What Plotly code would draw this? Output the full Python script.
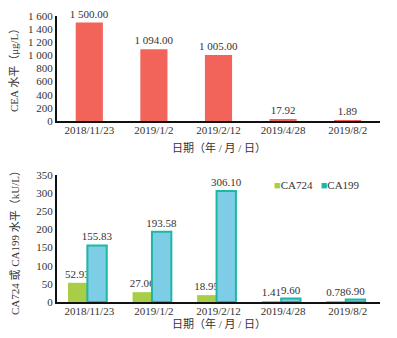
import plotly.graph_objects as go

dates = ["2018/11/23", "2019/1/2", "2019/2/12", "2019/4/28", "2019/8/2"]
cea = [1500.00, 1094.00, 1005.00, 17.92, 1.89]
ca724 = [52.93, 27.06, 18.95, 1.41, 0.78]
ca199 = [155.83, 193.58, 306.10, 9.60, 6.90]

cea_ticks = [0, 200, 400, 600, 800, 1000, 1200, 1400, 1600]
cea_ticktext = ["0", "200", "400", "600", "800", "1 000", "1 200", "1 400", "1 600"]
ca_ticks = [0, 50, 100, 150, 200, 250, 300, 350]

FONT = "Liberation Serif, Times New Roman, Noto Sans CJK SC, serif"
RED = "#F2635A"
GREEN = "#A9CD47"
BLUE = "#7DCDE6"
TEAL = "#1DB8A4"
TXT = "#333333"


def fmt(v):
    return f"{v:,.2f}".replace(",", " ")


fig = go.Figure()

fig.add_trace(go.Bar(
    x=dates, y=cea, xaxis="x", yaxis="y",
    marker=dict(color=RED, line=dict(width=0)),
    width=0.42, offset=-0.21,
    text=[fmt(v) for v in cea], textposition="outside", textangle=0,
    constraintext="none", cliponaxis=False,
    textfont=dict(family=FONT, size=11, color=TXT),
    showlegend=False, hoverinfo="skip",
))

fig.add_trace(go.Bar(
    x=dates, y=ca724, xaxis="x2", yaxis="y2", name="CA724",
    marker=dict(color=GREEN, line=dict(width=0)),
    width=0.3, offset=-0.33,
    text=[fmt(v) for v in ca724], textposition="outside", textangle=0,
    constraintext="none", cliponaxis=False,
    textfont=dict(family=FONT, size=11, color=TXT),
    showlegend=False, hoverinfo="skip",
))
fig.add_trace(go.Bar(
    x=dates, y=ca199, xaxis="x2", yaxis="y2", name="CA199",
    marker=dict(color=BLUE, line=dict(width=2, color=TEAL)),
    width=0.3, offset=-0.03,
    text=[fmt(v) for v in ca199], textposition="outside", textangle=0,
    constraintext="none", cliponaxis=False,
    textfont=dict(family=FONT, size=11, color=TXT),
    showlegend=False, hoverinfo="skip",
))

# page body has an 8px default margin; figure coords = screen coords - 8
OFF = 8
FW, FH = 381, 322
L = 57 - OFF
W = 323.0
H = float(FH)


def py(y):
    return 1 - (y - OFF) / H


def px(x):
    return (x - OFF - L) / W


axis_common = dict(
    showline=True, linecolor="#111111", linewidth=2,
    showgrid=False, zeroline=False, ticks="",
    tickfont=dict(family=FONT, size=11, color=TXT),
    automargin=False,
)

legend_text = (f"<span style='color:{GREEN}'>■</span>CA724"
               f"   <span style='color:{TEAL}'>■</span>CA199")

ann_common = dict(xref="paper", yref="paper", showarrow=False,
                  xanchor="center", yanchor="middle",
                  font=dict(family=FONT, size=11, color=TXT))

fig.update_layout(
    width=FW, height=FH,
    margin=dict(l=L, r=FW - L - int(W), t=0, b=0, autoexpand=False),
    paper_bgcolor="white", plot_bgcolor="white",
    barmode="group",
    showlegend=False,
    font=dict(family=FONT, size=11, color=TXT),
    xaxis=dict(domain=[0, 1], anchor="y", type="category", ticklabelstandoff=-2, **axis_common),
    yaxis=dict(domain=[py(121), py(16)], anchor="x", range=[0, 1600],
               tickvals=cea_ticks, ticktext=cea_ticktext, **axis_common),
    xaxis2=dict(domain=[0, 1], anchor="y2", type="category", ticklabelstandoff=-2, **axis_common),
    yaxis2=dict(domain=[py(302), py(175)], anchor="x2", range=[0, 350],
                tickvals=ca_ticks, **axis_common),
    annotations=[
        dict(text="CEA 水平（μg/L）", textangle=-90, x=px(14), y=py(68), **ann_common),
        dict(text="日期（年 / 月 / 日）", x=px(219), y=py(147), **ann_common),
        dict(text="CA724 或 CA199 水平（kU/L）", textangle=-90, x=px(15), y=py(240), **ann_common),
        dict(text="日期（年 / 月 / 日）", x=px(219), y=py(323), **ann_common),
        dict(text=legend_text, x=px(317), y=py(185), **ann_common),
    ],
)

fig.write_html("out.html")
